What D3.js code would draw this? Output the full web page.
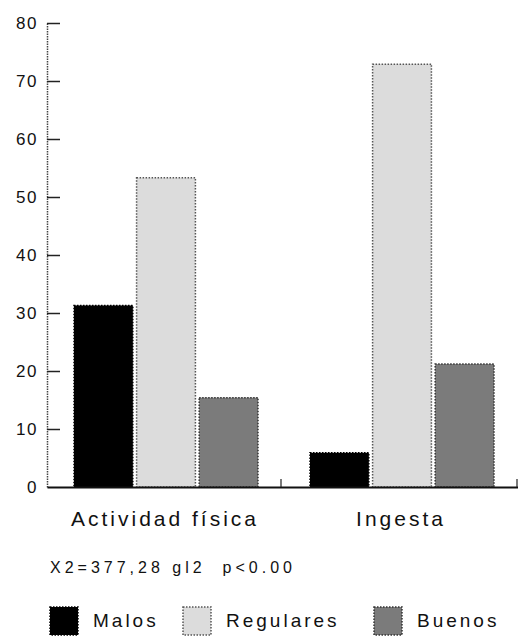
<!DOCTYPE html>
<meta charset="utf-8">
<script src="https://d3js.org/d3.v7.min.js"></script>
<div id="my_dataviz"></div>
<style>
body { margin: 0; background: #fff; }
text { font-family: "Liberation Sans", Arial, sans-serif; fill: #111; }
</style>
<script>
// data
var categories = ["Actividad física", "Ingesta"]
var series = ["Malos", "Regulares", "Buenos"]
var malos = [31.3, 5.9]
var regulares = [53.3, 72.9]
var buenos = [15.4, 21.2]
var yTicks = [0, 10, 20, 30, 40, 50, 60, 70, 80]
var statText = "X2=377,28 gl2  p<0.00"

var width = 518, height = 636
var svg = d3.select("#my_dataviz")
  .append("svg")
    .attr("width", width)
    .attr("height", height)

var fills = {"Malos": "#000", "Regulares": "#dcdcdc", "Buenos": "#7b7b7b"}
var strokes = {"Malos": "#000", "Regulares": "#555", "Buenos": "#333"}

var values = {"Malos": malos, "Regulares": regulares, "Buenos": buenos}
var rows = categories.map(function(c, i) {
  return {cat: c, items: series.map(function(s) { return {key: s, value: values[s][i]} })}
})

var y = d3.scaleLinear().domain([0, 80]).range([487, 23])
var x0 = d3.scaleBand().domain(categories).range([47, 519])
var x1 = d3.scaleBand().domain(series).range([27, 211]).paddingInner(0.06)

// y axis (ticks point inward)
var yAxis = svg.append("g")
  .attr("transform", "translate(47,0)")
  .call(d3.axisLeft(y).tickValues(yTicks).tickSizeInner(-13).tickSizeOuter(0).tickPadding(9))
yAxis.select(".domain").attr("stroke", "#444").attr("stroke-width", 1.5).attr("stroke-dasharray", "1.5,1")
yAxis.selectAll(".tick line").attr("stroke", "#222").attr("stroke-width", 1.5)
yAxis.selectAll(".tick text")
  .style("font-size", "17px")
  .style("letter-spacing", "1.5px")
  .attr("fill", "#111")
yAxis.selectAll(".tick").filter(function(d) { return d === 0 }).select("line").remove()

// bars
var groups = svg.append("g").selectAll("g")
  .data(rows)
  .enter()
  .append("g")
    .attr("transform", function(d) { return "translate(" + x0(d.cat) + ",0)" })
groups.selectAll("rect")
  .data(function(d) { return d.items })
  .enter()
  .append("rect")
    .attr("x", function(d) { return x1(d.key) })
    .attr("y", function(d) { return y(d.value) })
    .attr("width", x1.bandwidth())
    .attr("height", function(d) { return y(0) - y(d.value) })
    .attr("fill", function(d) { return fills[d.key] })
    .attr("stroke", function(d) { return strokes[d.key] })
    .attr("stroke-width", 1.5)
    .attr("stroke-dasharray", "1.5,1.5")

// baseline and category labels
var xAxis = svg.append("g")
  .attr("transform", "translate(0," + y(0) + ")")
  .call(d3.axisBottom(x0).tickSize(0).tickPadding(24))
xAxis.select(".domain").attr("stroke", "#111").attr("stroke-width", 2)
xAxis.selectAll(".tick text")
  .style("font-size", "21px")
  .style("letter-spacing", "3px")
  .attr("fill", "#111")

// small separator ticks at band edges
svg.append("g").selectAll("line")
  .data(categories)
  .enter()
  .append("line")
    .attr("x1", function(d) { return x0(d) + x0.bandwidth() - 2 })
    .attr("x2", function(d) { return x0(d) + x0.bandwidth() - 2 })
    .attr("y1", y(0))
    .attr("y2", y(0) - 8)
    .attr("stroke", "#222")
    .attr("stroke-width", 1.2)

// statistics note
svg.append("text")
  .attr("x", 50)
  .attr("y", 573)
  .style("font-size", "16px")
  .style("letter-spacing", "4px")
  .style("white-space", "pre")
  .text(statText)

// legend
var legendX = [50, 183, 374]
var legend = svg.append("g").selectAll("g")
  .data(series)
  .enter()
  .append("g")
    .attr("transform", function(d, i) { return "translate(" + legendX[i] + ",607)" })
legend.append("rect")
  .attr("width", 28)
  .attr("height", 28)
  .attr("fill", function(d) { return fills[d] })
  .attr("stroke", function(d) { return strokes[d] })
  .attr("stroke-width", 1.5)
  .attr("stroke-dasharray", "1.5,1.5")
legend.append("text")
  .attr("x", 43)
  .attr("y", 20)
  .style("font-size", "19px")
  .style("letter-spacing", "3px")
  .text(function(d) { return d })
</script>
